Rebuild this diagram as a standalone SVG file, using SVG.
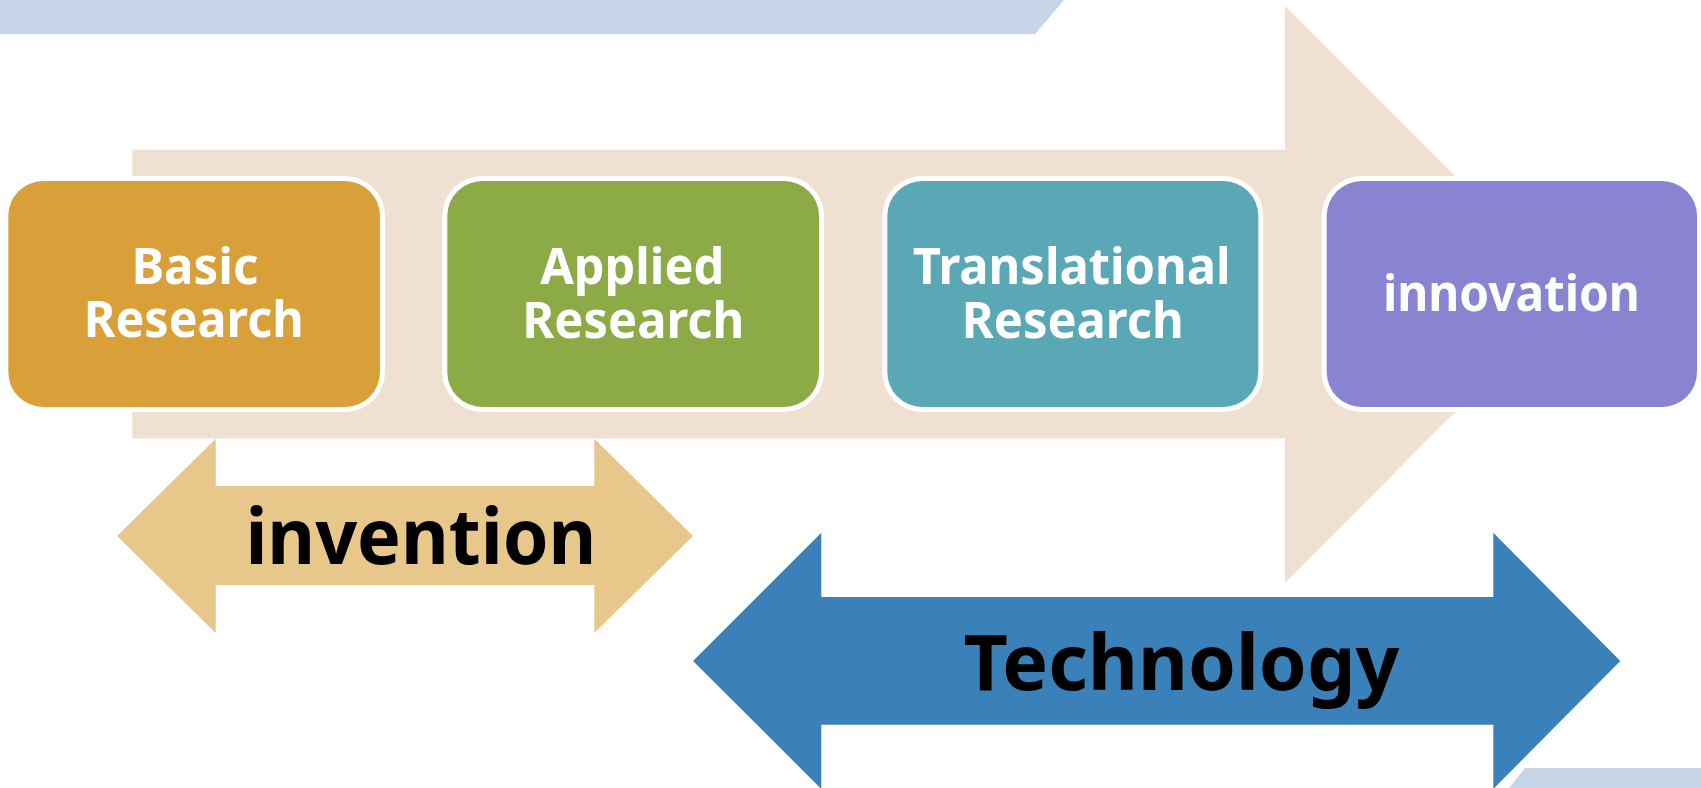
<svg xmlns="http://www.w3.org/2000/svg" width="1701" height="788" viewBox="0 0 1701 788">
<style>
.box-outline{fill:#FFFFFF}
.lbl{font-family:"Noto Sans","DejaVu Sans",sans-serif;font-weight:bold;fill:#FFFFFF;font-size:50px;text-anchor:middle}
.big{font-family:"Noto Sans","DejaVu Sans",sans-serif;font-weight:bold;fill:#000000;font-size:77px;text-anchor:middle}
.bar{fill:#C7D5E8}
</style>
<rect width="1701" height="788" fill="#FFFFFF"/>
<g id="decor">
<polygon class="bar" points="0,0 1064,0 1035,34.3 0,34.3"/>
<polygon class="bar" points="1525,768 1701,768 1701,788 1509,788"/>
</g>
<g id="connectors">
<polygon id="flow-arrow" fill="#F0E0D1" points="132.3,149.7 1285,149.7 1285,6 1573,294 1285,582.5 1285,438.5 132.3,438.5"/>
<polygon id="invention-arrow" fill="#E8C78B" points="117,536 215.7,438.7 215.7,486 594.3,486 594.3,438.7 693,536 594.3,633 594.3,585 215.7,585 215.7,633"/>
<polygon id="technology-arrow" fill="#3A80B9" points="693,661 821.3,532.7 821.3,597 1493.3,597 1493.3,532.7 1620.3,661 1493.3,789 1493.3,724.7 821.3,724.7 821.3,789"/>
</g>
<g id="node-basic">
<rect class="box-outline" x="3.3" y="176" width="381.7" height="236" rx="40"/>
<rect x="8.3" y="181" width="371.7" height="226" rx="35" fill="#D9A03A"/>
<text class="lbl"><tspan x="194.9" y="283.5" textLength="127" lengthAdjust="spacingAndGlyphs">Basic</tspan><tspan x="193.7" y="336.5" textLength="220" lengthAdjust="spacingAndGlyphs">Research</tspan></text>
</g>
<g id="node-applied">
<rect class="box-outline" x="442.3" y="176" width="381.7" height="236" rx="40"/>
<rect x="447.3" y="181" width="371.7" height="226" rx="35" fill="#8CAA45"/>
<text class="lbl"><tspan x="632.2" y="284.3" textLength="184" lengthAdjust="spacingAndGlyphs">Applied</tspan><tspan x="633.3" y="337.5" textLength="222" lengthAdjust="spacingAndGlyphs">Research</tspan></text>
</g>
<g id="node-translational">
<rect class="box-outline" x="882.3" y="176" width="381" height="236" rx="40"/>
<rect x="887.3" y="181" width="371" height="226" rx="35" fill="#5AA7B5"/>
<text class="lbl"><tspan x="1071.7" y="284.3" textLength="318" lengthAdjust="spacingAndGlyphs">Translational</tspan><tspan x="1072.7" y="337.5" textLength="222" lengthAdjust="spacingAndGlyphs">Research</tspan></text>
</g>
<g id="node-innovation">
<rect class="box-outline" x="1321.7" y="176" width="380.3" height="236" rx="40"/>
<rect x="1326.7" y="181" width="370.3" height="226" rx="35" fill="#8A83D1"/>
<text class="lbl" x="1511.4" y="310.7" textLength="257" lengthAdjust="spacingAndGlyphs">innovation</text>
</g>
<g id="label-invention">
<text class="big" x="420.9" y="564" textLength="351" lengthAdjust="spacingAndGlyphs">invention</text>
</g>
<g id="label-technology">
<text class="big" x="1181.4" y="690.3" textLength="436" lengthAdjust="spacingAndGlyphs">Technology</text>
</g>
</svg>
